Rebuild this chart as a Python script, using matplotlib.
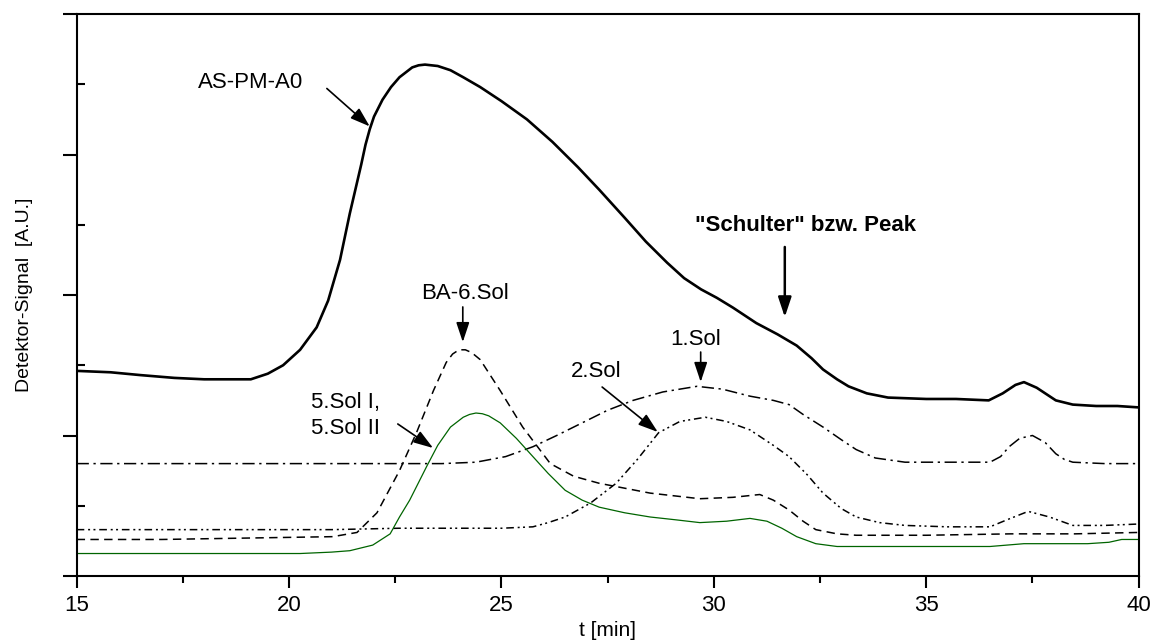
"""GPC-Elugramme: AS-PM-A0 und Sol-Fraktionen."""

import matplotlib
matplotlib.use('Agg')
import matplotlib.pyplot as plt
from matplotlib.ticker import MultipleLocator, NullFormatter

plt.rcParams['font.family'] = ['Liberation Sans', 'DejaVu Sans']

# AS-PM-A0 (dicke durchgezogene Linie)
t_a0 = [15.0, 15.8, 16.5, 17.3, 18.0, 18.7, 19.1, 19.5, 19.86, 20.26, 20.65, 20.92,
        21.2, 21.43, 21.7, 21.8, 21.9, 22.0, 22.2, 22.4, 22.6, 22.9, 23.05, 23.2, 23.35,
        23.5, 23.8, 24.1, 24.5, 25.0, 25.6, 26.2, 26.8, 27.3, 27.9, 28.4, 28.9,
        29.3, 29.7, 30.07, 30.45, 31.0, 31.5, 31.95, 32.3, 32.57, 32.9, 33.17, 33.6,
        34.1, 35.0, 35.7, 36.47, 36.8, 37.1, 37.3, 37.6, 38.05, 38.45, 39.0, 39.5, 40.0]
s_a0 = [1.46, 1.45, 1.43, 1.41, 1.40, 1.40, 1.40, 1.44, 1.50, 1.61, 1.77, 1.96,
        2.25, 2.58, 2.93, 3.07, 3.18, 3.27, 3.39, 3.48, 3.55, 3.62, 3.635, 3.64, 3.635,
        3.63, 3.60, 3.55, 3.48, 3.38, 3.25, 3.09, 2.91, 2.75, 2.55, 2.38, 2.23,
        2.12, 2.04, 1.98, 1.91, 1.80, 1.72, 1.64, 1.55, 1.47, 1.40, 1.35, 1.30,
        1.27, 1.26, 1.26, 1.25, 1.30, 1.36, 1.38, 1.34, 1.25, 1.22, 1.21, 1.21, 1.20]

# 1.Sol (Strich-Punkt)
t_sol1 = [15.0, 17.0, 19.0, 21.0, 22.6, 23.6, 24.4, 25.1, 25.74, 26.3, 26.9, 27.5,
          28.1, 28.8, 29.6, 30.2, 30.85, 31.4, 31.77, 32.1, 32.57, 33.0, 33.35, 33.8,
          34.5, 35.5, 36.5, 36.75, 36.95, 37.2, 37.5, 37.8, 38.05, 38.25, 38.45, 39.2, 40.0]
s_sol1 = [0.80, 0.80, 0.80, 0.80, 0.80, 0.80, 0.81, 0.85, 0.92, 1.00, 1.09, 1.18,
          1.25, 1.31, 1.35, 1.33, 1.28, 1.25, 1.22, 1.15, 1.06, 0.97, 0.90, 0.84,
          0.81, 0.81, 0.81, 0.85, 0.92, 0.98, 1.00, 0.95, 0.87, 0.83, 0.81, 0.80, 0.80]

# 2.Sol (Strich-Punkt-Punkt)
t_sol2 = [15.0, 18.0, 21.0, 22.6, 24.0, 25.0, 25.74, 26.1, 26.5, 27.1, 27.7, 28.2,
          28.7, 29.2, 29.8, 30.3, 30.85, 31.4, 31.77, 32.2, 32.57, 33.0, 33.35, 33.9,
          34.5, 35.5, 36.5, 36.9, 37.4, 37.9, 38.45, 39.2, 40.0]
s_sol2 = [0.33, 0.33, 0.33, 0.34, 0.34, 0.34, 0.35, 0.38, 0.42, 0.52, 0.66, 0.83,
          1.02, 1.10, 1.13, 1.10, 1.04, 0.93, 0.85, 0.72, 0.59, 0.48, 0.42, 0.38,
          0.36, 0.35, 0.35, 0.40, 0.46, 0.42, 0.36, 0.36, 0.37]

# BA-6.Sol (gestrichelt)
t_ba6 = [15.0, 17.0, 19.0, 21.03, 21.6, 22.07, 22.6, 23.0, 23.4, 23.7, 23.85, 24.0,
         24.15, 24.3, 24.5, 24.97, 25.5, 26.15, 26.7, 27.3, 28.5, 29.67, 30.45, 31.08,
         31.4, 31.77, 32.1, 32.4, 32.9, 33.35, 35.0, 37.0, 38.5, 40.0]
s_ba6 = [0.26, 0.26, 0.27, 0.28, 0.31, 0.45, 0.75, 1.02, 1.32, 1.52, 1.58, 1.61,
         1.61, 1.59, 1.54, 1.32, 1.06, 0.80, 0.71, 0.66, 0.59, 0.55, 0.56, 0.58,
         0.54, 0.47, 0.39, 0.33, 0.30, 0.29, 0.29, 0.30, 0.30, 0.31]

# 5.Sol I / 5.Sol II (duenn, gruen)
t_sol5 = [15.0, 17.0, 19.0, 20.26, 21.0, 21.43, 21.97, 22.38, 22.6, 22.84, 23.24, 23.5,
          23.8, 24.1, 24.25, 24.4, 24.55, 24.7, 24.97, 25.35, 25.74, 26.1, 26.5, 26.9,
          27.3, 27.9, 28.5, 29.1, 29.67, 30.3, 30.85, 31.25, 31.6, 31.95, 32.4, 32.9,
          33.35, 35.0, 36.5, 37.3, 38.8, 39.3, 39.6, 40.0]
s_sol5 = [0.16, 0.16, 0.16, 0.16, 0.17, 0.18, 0.22, 0.30, 0.42, 0.54, 0.78, 0.93,
          1.06, 1.13, 1.15, 1.16, 1.155, 1.14, 1.09, 0.98, 0.85, 0.73, 0.61, 0.54,
          0.49, 0.45, 0.42, 0.40, 0.38, 0.39, 0.41, 0.39, 0.34, 0.28, 0.23, 0.21,
          0.21, 0.21, 0.21, 0.23, 0.23, 0.24, 0.26, 0.26]

fig = plt.figure(figsize=(11.56, 6.43), dpi=100)
ax = fig.add_axes([0.0663, 0.1042, 0.9187, 0.8740])

ax.plot(t_a0, s_a0, color='black', linewidth=1.9, solid_joinstyle='round')
ax.plot(t_sol1, s_sol1, color='black', linewidth=1.1, dashes=(8, 3, 1.5, 3))
ax.plot(t_sol2, s_sol2, color='black', linewidth=1.1, dashes=(5, 2.5, 1.3, 2.2, 1.3, 2.5))
ax.plot(t_ba6, s_ba6, color='black', linewidth=1.1, dashes=(5.5, 3.5))
ax.plot(t_sol5, s_sol5, color='#006400', linewidth=0.9)

ax.set_xlim(15, 40)
ax.set_ylim(0, 4)

ax.xaxis.set_major_locator(MultipleLocator(5))
ax.xaxis.set_minor_locator(MultipleLocator(2.5))
ax.yaxis.set_major_locator(MultipleLocator(1))
ax.yaxis.set_minor_locator(MultipleLocator(0.5))
ax.yaxis.set_major_formatter(NullFormatter())

for s in ax.spines.values():
    s.set_linewidth(1.5)

ax.tick_params(axis='x', which='major', direction='out', length=8.5, width=1.5,
               labelsize=16, pad=5)
ax.tick_params(axis='x', which='minor', direction='out', length=5, width=1.5)
ax.tick_params(axis='y', which='major', direction='out', length=10, width=1.5)
ax.tick_params(axis='y', which='minor', direction='in', length=5.5, width=1.5)

ax.set_xlabel('t [min]', fontsize=15, labelpad=4)
ax.set_ylabel('Detektor-Signal  [A.U.]', fontsize=14, labelpad=18)

arrow = dict(arrowstyle='-|>,head_length=0.6,head_width=0.2', color='black',
             lw=1.2, shrinkA=0, shrinkB=0, mutation_scale=20)
arrow_bold = dict(arrow, lw=1.8)

ax.annotate('', xy=(21.90, 3.20), xytext=(20.89, 3.47), arrowprops=arrow)
ax.text(19.10, 3.516, 'AS-PM-A0', fontsize=16, ha='center', va='center')

ax.annotate('', xy=(24.09, 1.665), xytext=(24.09, 1.915), arrowprops=arrow)
ax.text(24.14, 2.014, 'BA-6.Sol', fontsize=16, ha='center', va='center')

ax.annotate('', xy=(29.69, 1.381), xytext=(29.69, 1.594), arrowprops=arrow)
ax.text(29.56, 1.680, '1.Sol', fontsize=16, ha='center', va='center')

ax.annotate('', xy=(28.68, 1.025), xytext=(27.37, 1.345), arrowprops=arrow)
ax.text(27.23, 1.452, '2.Sol', fontsize=16, ha='center', va='center')

ax.annotate('', xy=(23.39, 0.911), xytext=(22.56, 1.082), arrowprops=arrow)
ax.text(20.52, 1.142, '5.Sol I,\n5.Sol II', fontsize=16, ha='left', va='center',
        linespacing=1.35)

ax.annotate('', xy=(31.67, 1.843), xytext=(31.67, 2.342), arrowprops=arrow_bold)
ax.text(32.15, 2.498, '"Schulter" bzw. Peak', fontsize=16, fontweight='bold',
        ha='center', va='center')

fig.savefig('out.png', dpi=100)
